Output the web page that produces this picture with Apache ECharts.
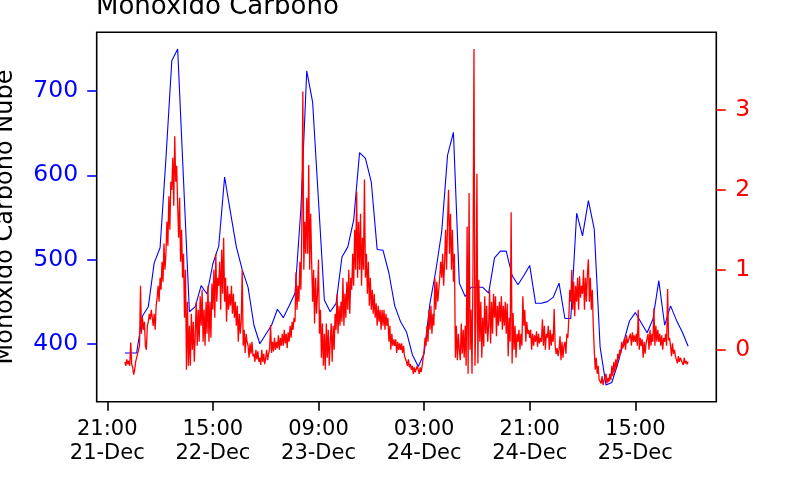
<!DOCTYPE html>
<html><head><meta charset="utf-8">
<script src="https://cdn.jsdelivr.net/npm/echarts@6/dist/echarts.min.js"></script>
<style>html,body{margin:0;padding:0;background:#fff}#c{width:798px;height:480px}</style>
</head><body><div id="c"></div>
<script>
// Hourly series (left axis), hours 0..96 from 22-Dec 00:00
const blueValues = [
389,389,389,433,444,496,514,620,736,750,594,438,444,469,459,495,516,598,556,515,488,467,422,400,
411,422,441,431,445,460,560,724,687,570,452,438,448,503,515,547,627,620,592,512,511,484,445,426,
414,387,373,388,448,487,533,624,651,472,456,467,467,467,460,502,510,510,481,470,481,493,448,448,
450,455,472,430,430,555,528,570,536,396,351,354,376,402,427,437,425,413,429,475,422,445,428,414,397
];
// High-frequency series (right axis), 10-minute steps from 22-Dec 00:00
const redValues = [
-0.15,-0.2,-0.12,-0.18,-0.14,-0.2,
0.09,-0.18,-0.22,-0.31,-0.25,-0.15,
-0.1,-0.05,0.0,0.05,0.8,0.2,
0.4,0.25,0.35,0.05,0.0,0.3,
0.35,0.45,0.38,0.5,0.4,0.3,
0.45,0.25,0.55,0.65,0.8,0.6,
0.9,0.75,1.1,0.85,1.33,1.0,
1.2,1.6,1.3,1.92,1.5,2.1,
2.0,2.4,1.8,2.67,2.1,2.3,
1.8,1.4,1.9,1.1,1.5,0.9,
1.2,0.4,1.0,-0.25,0.6,-0.2,
0.3,-0.2,0.45,0.0,0.35,-0.15,
0.2,0.6,0.05,0.5,0.1,0.67,
0.3,0.75,0.1,0.5,0.05,0.6,
0.2,0.8,0.1,0.6,0.15,0.83,
0.5,1.0,0.4,1.2,0.6,0.9,
0.8,1.1,0.5,1.25,0.7,1.4,
0.6,0.9,0.35,0.8,0.5,0.7,
0.55,0.8,0.45,0.7,0.4,0.6,
0.3,0.55,0.1,0.45,0.2,0.35,
1.0,0.05,0.25,-0.04,0.2,0.1,
0.05,-0.1,0.08,-0.05,0.1,-0.08,
-0.05,-0.15,0.0,-0.12,-0.02,-0.15,
-0.1,-0.19,0.0,-0.15,-0.05,-0.18,
-0.1,0.0,-0.13,-0.05,0.0,0.31,
-0.04,0.1,-0.02,0.15,0.0,0.1,
0.02,0.18,0.0,0.15,0.05,0.2,
0.05,0.25,0.08,0.2,0.02,0.22,
0.1,0.3,0.15,0.35,0.25,0.4,
0.35,0.97,0.5,0.8,0.6,1.1,
0.75,1.58,3.23,1.0,1.6,1.2,
1.9,1.2,2.31,1.0,1.7,1.1,
0.6,1.0,0.33,0.9,0.45,0.7,
1.13,0.2,0.5,-0.1,0.33,-0.2,
0.2,-0.25,0.33,-0.1,0.25,-0.2,
0.1,0.33,-0.15,0.3,0.0,0.45,
0.25,0.7,0.2,0.55,0.3,0.6,
0.35,0.9,0.3,0.7,0.4,0.85,
0.5,1.0,0.45,0.9,0.75,1.2,
0.8,1.5,1.0,1.98,0.9,1.6,
1.0,1.7,0.8,1.4,1.0,2.13,
0.9,1.2,0.7,1.1,0.55,0.9,
0.5,0.75,0.45,0.7,0.4,0.58,
0.3,0.55,0.35,0.5,0.25,0.5,
0.3,0.5,0.25,0.45,0.3,0.4,
0.1,0.3,0.0,0.2,0.05,0.13,
0.05,0.13,-0.04,0.1,0.0,0.08,
0.0,0.08,-0.04,0.05,-0.08,-0.1,
-0.15,-0.2,-0.12,-0.22,-0.18,-0.25,
-0.2,-0.3,-0.22,-0.28,-0.3,-0.2,
-0.25,-0.3,-0.22,-0.28,-0.2,-0.1,
0.0,0.15,0.05,0.3,0.1,0.5,
0.25,0.55,0.2,0.45,0.3,0.9,
0.5,0.85,0.6,0.75,0.9,1.1,
0.9,1.2,0.8,1.1,1.5,1.0,
1.6,2.0,1.2,1.7,1.0,1.5,
0.85,1.2,-0.1,0.3,-0.13,0.2,
0.0,-0.13,0.33,-0.05,0.25,-0.1,
0.3,-0.2,1.54,-0.3,1.96,0.0,
0.5,-0.3,1.0,3.76,-0.2,0.4,
2.2,-0.17,0.875,0.1,0.6,-0.1,
0.4,0.04,0.67,0.2,0.55,0.1,
0.3,0.75,0.08,0.6,0.2,0.7,
0.4,0.67,0.17,0.55,0.3,0.6,
0.35,0.67,0.25,0.55,0.3,0.6,
0.2,0.58,-0.08,0.4,0.1,1.72,
-0.17,0.46,0.0,0.3,-0.1,0.2,
0.1,0.25,0.0,0.2,0.05,0.67,
0.3,0.5,0.1,0.35,0.2,0.25,
0.15,0.25,0.0,0.2,0.05,0.18,
0.1,0.23,0.04,0.2,0.08,0.15,
0.1,0.38,0.05,0.3,0.0,0.2,
0.15,0.3,0.0,0.25,0.05,0.2,
0.1,0.51,0.05,-0.05,0.02,-0.08,
0.0,0.17,-0.13,0.1,-0.1,0.05,
0.1,-0.05,0.2,0.15,0.4,0.75,
0.6,1.0,0.5,0.85,0.42,0.8,
0.6,0.9,0.5,0.92,0.65,0.8,
0.7,1.0,0.5,0.9,0.6,0.95,
1.13,0.6,0.9,0.5,0.75,0.3,
0.0,-0.25,-0.1,-0.3,-0.2,-0.375,
-0.35,-0.42,-0.33,-0.44,-0.38,-0.4,
-0.3,-0.42,-0.35,-0.4,-0.3,-0.38,
-0.2,-0.33,-0.15,-0.28,-0.12,-0.22,
-0.05,-0.12,0.0,-0.05,0.1,0.02,
0.05,0.15,0.0,0.18,0.08,0.12,
0.1,0.2,0.05,0.22,0.1,0.18,
0.1,0.2,0.05,0.5,0.0,0.15,
0.05,0.13,-0.1,0.1,-0.05,0.08,
0.1,0.2,0.0,0.25,0.05,0.2,
0.1,0.52,0.05,0.3,0.1,0.25,
0.1,0.2,0.05,0.18,0.0,0.15,
0.1,0.2,0.05,0.76,0.12,0.15,
0.05,-0.08,0.08,-0.05,0.0,-0.08,
-0.1,-0.17,-0.08,-0.15,-0.1,-0.13,
-0.12,-0.19,-0.1,-0.17,-0.14,-0.18,
-0.15
];
const xTickHours = [-3, 15, 33, 51, 69, 87];
const xTickLabels = ['21:00\n21-Dec', '15:00\n22-Dec', '09:00\n23-Dec', '03:00\n24-Dec', '21:00\n24-Dec', '15:00\n25-Dec'];
const leftTicks = [400, 500, 600, 700];
const rightTicks = [0, 1, 2, 3];
const titleText = 'Monoxido Carbono';
const leftName = 'Monoxido Carbono Nube';

const FONT = 'DejaVu Sans';
function padded(arr) {
  const mn = Math.min.apply(null, arr), mx = Math.max.apply(null, arr);
  const r = mx - mn;
  return [mn - 0.05 * r, mx + 0.05 * r];
}
const blueData = blueValues.map((v, i) => [i, v]);
const redData = redValues.map((v, i) => [i / 6, v]);
const xr = padded([0, 96]);
const lr = padded(blueValues);
const rr = padded(redValues);

const chart = echarts.init(document.getElementById('c'), null, {renderer: 'canvas'});
chart.setOption({
  animation: false,
  backgroundColor: '#ffffff',
  title: {
    text: titleText, left: 96, top: -5.7, padding: 0,
    textStyle: {fontFamily: FONT, fontSize: 26, fontWeight: 'normal', color: '#000'}
  },
  grid: {left: 96.7, top: 32.2, right: 81.7, bottom: 78.2, show: true, borderColor: '#000', borderWidth: 1.6,
         containLabel: false, outerBoundsMode: 'none'},
  xAxis: {
    type: 'value', min: xr[0], max: xr[1], position: 'bottom',
    axisLine: {show: false, onZero: false}, splitLine: {show: false},
    axisTick: {show: true, length: 9, lineStyle: {color: '#000', width: 1.6}, customValues: xTickHours},
    axisLabel: {
      customValues: xTickHours, margin: 16, fontFamily: FONT, fontSize: 21, lineHeight: 23.5, color: '#000',
      formatter: function (v) { const i = xTickHours.indexOf(Math.round(v)); return i >= 0 ? xTickLabels[i] : ''; }
    }
  },
  yAxis: [{
    type: 'value', position: 'left', min: lr[0], max: lr[1],
    axisLine: {show: false, onZero: false}, splitLine: {show: false},
    axisTick: {show: true, length: 9.5, lineStyle: {color: '#0000ff', width: 1.6}, customValues: leftTicks},
    axisLabel: {customValues: leftTicks, margin: 18.5, fontFamily: FONT, fontSize: 23.5, color: '#0000ff'},
    name: leftName, nameLocation: 'middle', nameRotate: 90, nameGap: 79,
    nameTextStyle: {fontFamily: FONT, fontSize: 24, color: '#000'}
  }, {
    type: 'value', position: 'right', min: rr[0], max: rr[1],
    axisLine: {show: false, onZero: false}, splitLine: {show: false},
    axisTick: {show: true, length: 9.5, lineStyle: {color: '#ff0000', width: 1.6}, customValues: rightTicks},
    axisLabel: {customValues: rightTicks, margin: 19, fontFamily: FONT, fontSize: 23.5, color: '#ff0000'}
  }],
  series: [{
    type: 'line', yAxisIndex: 0, data: blueData, showSymbol: false, symbol: 'none',
    lineStyle: {color: '#0000ff', width: 1.1}, z: 2
  }, {
    type: 'line', yAxisIndex: 1, data: redData, showSymbol: false, symbol: 'none',
    lineStyle: {color: '#ff0000', width: 1.3}, z: 3
  }]
});
</script>
</body></html>
